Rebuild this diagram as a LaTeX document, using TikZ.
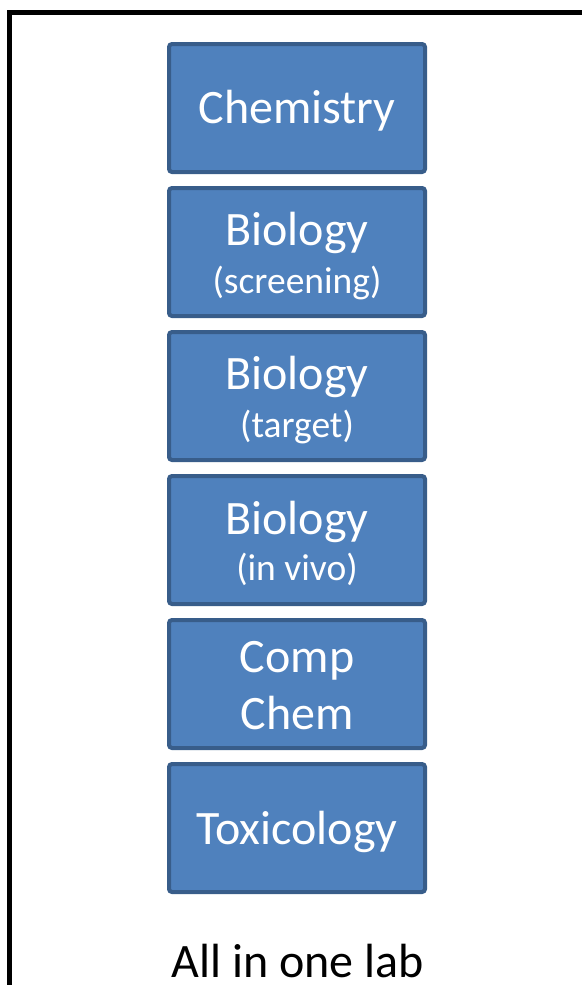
\documentclass[tikz,border=0pt]{standalone}
\usepackage{fontspec}
\setmainfont{Carlito}
\definecolor{boxfill}{HTML}{4F81BD}
\definecolor{boxline}{HTML}{385D8A}
\begin{document}
\begin{tikzpicture}[x=1pt,y=-1pt,
  stage/.style={draw=boxline, fill=boxfill, line width=4pt, rounded corners=3pt,
    minimum width=256pt, minimum height=128pt, inner sep=0pt, outer sep=0pt},
  big/.style={text=white, font=\fontsize{48}{57.6}\selectfont, anchor=base, inner sep=0pt},
  small/.style={text=white, font=\fontsize{37.5}{45}\selectfont, anchor=base, inner sep=0pt},
  caption/.style={text=black, font=\fontsize{48}{57.6}\selectfont, anchor=base, inner sep=0pt}]
\useasboundingbox (0,0) rectangle (581,985);

% frame around the lab
\draw[line width=5pt] (9.5,1000) -- (9.5,12) -- (600,12);

% stacked stages
\node[stage] (chem) at (297,108) {};
\node[stage] (bioscr) at (297,252) {};
\node[stage] (biotgt) at (297,396) {};
\node[stage] (bioviv) at (297,540) {};
\node[stage] (comp) at (297,684) {};
\node[stage] (tox) at (297,828) {};

% stage labels
\node[big] (tchem) at (297,123) {Chemistry};
\node[big] (tbio1) at (297,245) {Biology};
\node[small] (tscr) at (297,293) {(screening)};
\node[big] (tbio2) at (297,389) {Biology};
\node[small] (ttgt) at (297,437) {(target)};
\node[big] (tbio3) at (297,534) {Biology};
\node[small] (tviv) at (297,580) {(in vivo)};
\node[big] (tcomp) at (297,672) {Comp};
\node[big] (tchem2) at (297,729) {Chem};
\node[big] (ttox) at (297,844) {Toxicology};

\node[caption] (lab) at (297.5,977) {All in one lab};
\end{tikzpicture}
\end{document}
